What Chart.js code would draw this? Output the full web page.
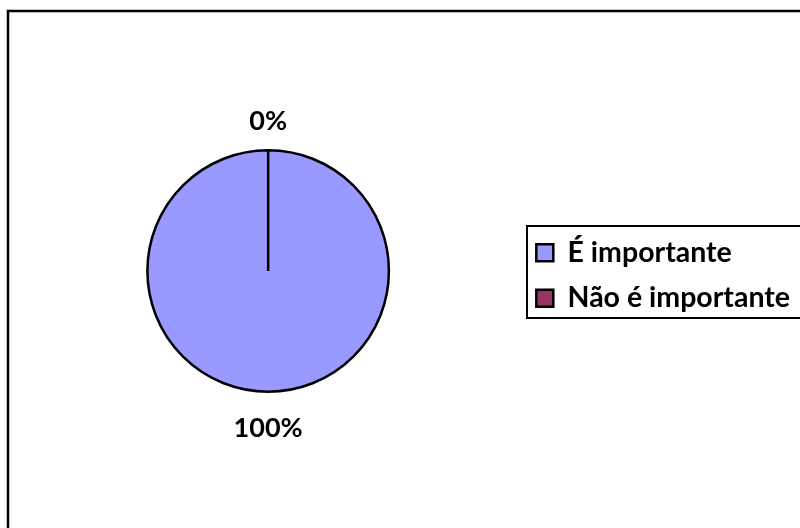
<!DOCTYPE html>
<html lang="pt">
<head>
<meta charset="UTF-8">
<title>Importância</title>
<script src="https://cdn.jsdelivr.net/npm/chart.js@4.4.2/dist/chart.umd.min.js"></script>
<style>
  html, body { margin: 0; padding: 0; overflow: hidden; background: #fff; }
  #wrap { width: 800px; height: 528px; overflow: hidden; }
  canvas { display: block; }
</style>
</head>
<body>
<div id="wrap"><canvas id="pie" width="840" height="560"></canvas></div>
<script>
var labels = ['É importante', 'Não é importante'];
var values = [100, 0];
var colors = ['#9999FF', '#993366'];

var FONT = 'Lato';

// outer frame of the chart
var framePlugin = {
  id: 'frame',
  beforeDraw: function (chart) {
    var ctx = chart.ctx;
    ctx.save();
    ctx.strokeStyle = '#000';
    ctx.lineWidth = 2.5;
    ctx.strokeRect(8, 11, 900, 600);
    ctx.restore();
  }
};

// black box round the legend items
var legendBoxPlugin = {
  id: 'legendBox',
  afterDraw: function (chart) {
    var boxes = chart.legend.legendHitBoxes;
    if (!boxes || !boxes.length) return;
    var top = Math.min.apply(null, boxes.map(function (b) { return b.top; }));
    var bottom = Math.max.apply(null, boxes.map(function (b) { return b.top + b.height; }));
    var left = Math.min.apply(null, boxes.map(function (b) { return b.left; }));
    var ctx = chart.ctx;
    ctx.save();
    ctx.strokeStyle = '#000';
    ctx.lineWidth = 2;
    ctx.strokeRect(Math.round(left) - 9, Math.round(top) - 12, 400, bottom - top + 18);
    ctx.restore();
  }
};

// percentage labels outside each slice
var pctPlugin = {
  id: 'pct',
  afterDatasetsDraw: function (chart) {
    var ctx = chart.ctx;
    var meta = chart.getDatasetMeta(0);
    var total = values.reduce(function (a, b) { return a + b; }, 0);
    ctx.save();
    ctx.font = 'bold 27px ' + FONT;
    ctx.fillStyle = '#000';
    ctx.textAlign = 'center';
    ctx.textBaseline = 'middle';
    meta.data.forEach(function (arc, i) {
      var mid = (arc.startAngle + arc.endAngle) / 2;
      var r = arc.outerRadius + 33;
      var x = arc.x + Math.cos(mid) * r;
      var y = arc.y + Math.sin(mid) * r + 4;
      ctx.fillText(Math.round(values[i] / total * 100) + '%', x, y);
    });
    ctx.restore();
  }
};

new Chart(document.getElementById('pie'), {
  type: 'pie',
  data: {
    labels: labels,
    datasets: [{
      data: values,
      backgroundColor: colors,
      borderColor: '#000',
      borderWidth: 2.5
    }]
  },
  options: {
    responsive: false,
    animation: false,
    events: [],
    layout: { padding: { left: 17, top: 149, bottom: 167, right: 40 } },
    plugins: {
      tooltip: { enabled: false },
      legend: {
        position: 'right',
        // empty title only nudges the items down a little
        title: { display: true, text: '', font: { size: 4 }, padding: 2 },
        labels: {
          color: '#000',
          font: { family: FONT, size: 28.5, weight: 'bold' },
          boxWidth: 17,
          boxHeight: 17,
          padding: 17
        }
      }
    }
  },
  plugins: [framePlugin, legendBoxPlugin, pctPlugin]
});
</script>
</body>
</html>
